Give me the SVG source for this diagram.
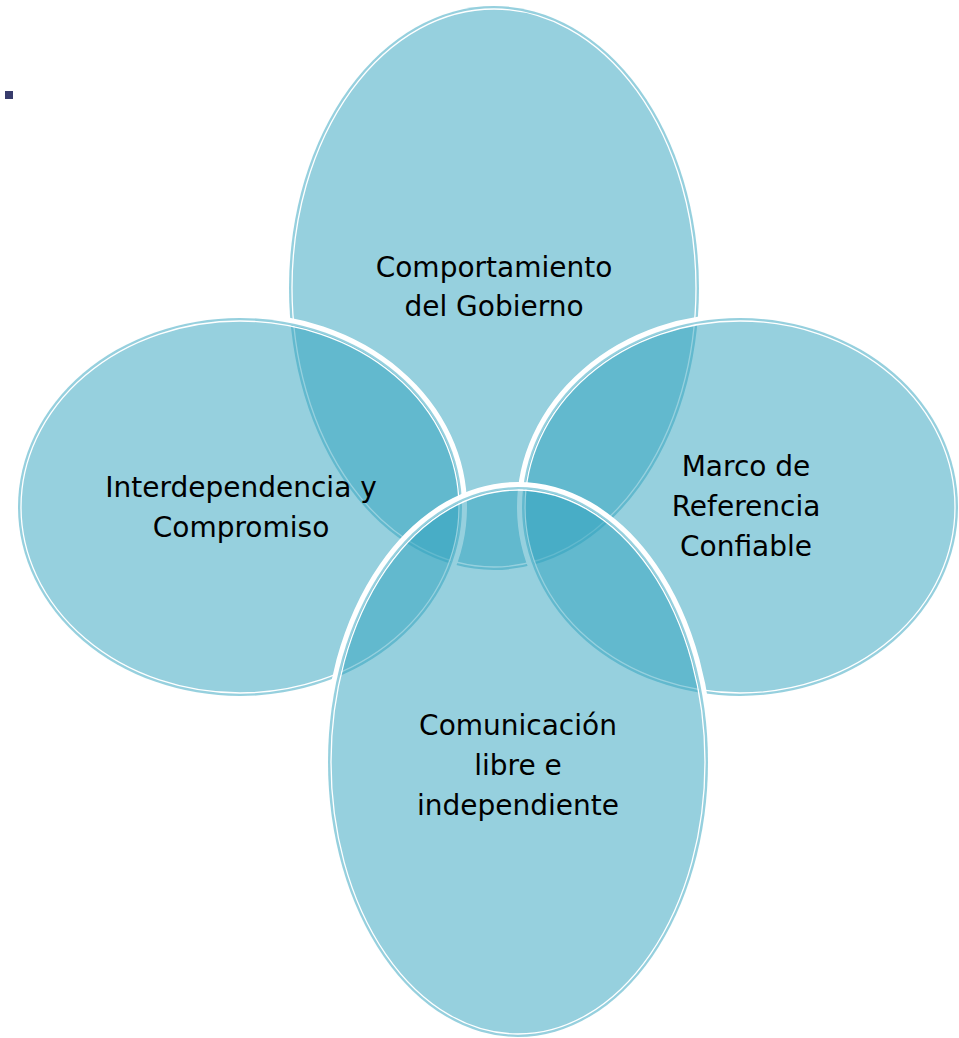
<svg xmlns="http://www.w3.org/2000/svg" width="959" height="1038" viewBox="0 0 959 1038">
  <style>
    .glow { fill: none; stroke: #ffffff; stroke-width: 7; }
    .body { fill: #2DA1BD; fill-opacity: 0.5; stroke: none; }
    .inner { fill: none; stroke: #ffffff; stroke-width: 1.3; }
    .lbl { font-family: "DejaVu Sans", Verdana, sans-serif; font-size: 28px; fill: #000000; text-anchor: middle; }
  </style>
  <rect width="959" height="1038" fill="#ffffff"/>
  <rect x="5" y="91" width="8" height="8" fill="#383C6C"/>
  <g id="connectors"></g>
  <g id="node-top">
    <ellipse class="glow" cx="494" cy="288" rx="206.5" ry="283.5"/>
    <ellipse class="body" cx="494" cy="288" rx="205" ry="282"/>
    <ellipse class="inner" cx="494" cy="288" rx="202" ry="279"/>
    <text class="lbl" x="494" y="277">Comportamiento</text>
    <text class="lbl" x="494" y="316">del Gobierno</text>
  </g>
  <g id="node-left">
    <ellipse class="glow" cx="240" cy="507" rx="223.5" ry="190.5"/>
    <ellipse class="body" cx="240" cy="507" rx="222" ry="189"/>
    <ellipse class="inner" cx="240" cy="507" rx="219" ry="186"/>
    <text class="lbl" x="241" y="497">Interdependencia y</text>
    <text class="lbl" x="241" y="537">Compromiso</text>
  </g>
  <g id="node-right">
    <ellipse class="glow" cx="740" cy="507" rx="219.5" ry="190.5"/>
    <ellipse class="body" cx="740" cy="507" rx="218" ry="189"/>
    <ellipse class="inner" cx="740" cy="507" rx="215" ry="186"/>
    <text class="lbl" x="746" y="476">Marco de</text>
    <text class="lbl" x="746" y="516">Referencia</text>
    <text class="lbl" x="746" y="556">Confiable</text>
  </g>
  <g id="node-bottom">
    <ellipse class="glow" cx="518" cy="762" rx="191.5" ry="276.5"/>
    <ellipse class="body" cx="518" cy="762" rx="190" ry="275"/>
    <ellipse class="inner" cx="518" cy="762" rx="187" ry="272"/>
    <text class="lbl" x="518" y="735">Comunicación</text>
    <text class="lbl" x="518" y="775">libre e</text>
    <text class="lbl" x="518" y="815">independiente</text>
  </g>
</svg>
